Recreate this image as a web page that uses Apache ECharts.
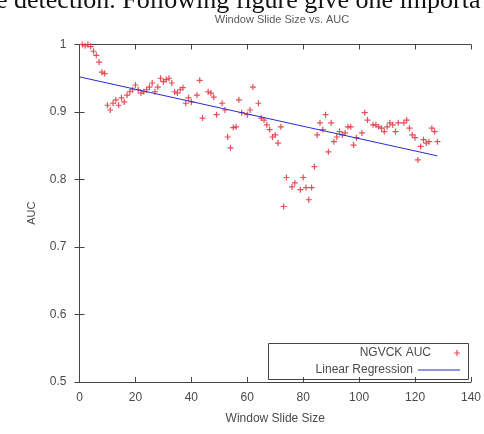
<!DOCTYPE html>
<html>
<head>
<meta charset="utf-8">
<script src="https://cdn.jsdelivr.net/npm/echarts@6/dist/echarts.min.js"></script>
<style>
  html, body { margin: 0; padding: 0; background: #fff; }
  #chart { width: 484px; height: 434px; }
</style>
</head>
<body>
<div id="chart"></div>
<script>
// window slide size -> AUC
const ngvckAuc = [
  [1, 1.0], [2, 0.998], [3, 1.0], [4, 0.997], [5, 0.99], [6, 0.984], [7, 0.974],
  [8, 0.959], [9, 0.957], [10, 0.91], [11, 0.903], [12, 0.913], [13, 0.918],
  [14, 0.91], [15, 0.921], [16, 0.915], [17, 0.925], [18, 0.93], [19, 0.933],
  [20, 0.94], [21, 0.933], [22, 0.928], [23, 0.93], [24, 0.933], [25, 0.937],
  [26, 0.943], [27, 0.93], [28, 0.937], [29, 0.95], [30, 0.945], [31, 0.948],
  [32, 0.95], [33, 0.943], [34, 0.93], [35, 0.928], [36, 0.933], [37, 0.936],
  [38, 0.913], [39, 0.921], [40, 0.915], [42, 0.925], [43, 0.947], [44, 0.891],
  [46, 0.93], [47, 0.928], [48, 0.922], [49, 0.896], [51, 0.913], [52, 0.903],
  [53, 0.863], [54, 0.847], [55, 0.877], [56, 0.878], [57, 0.918], [58, 0.899],
  [60, 0.896], [61, 0.903], [62, 0.937], [64, 0.913], [65, 0.891], [66, 0.888],
  [67, 0.881], [68, 0.874], [69, 0.863], [70, 0.866], [71, 0.854], [72, 0.878],
  [73, 0.76], [74, 0.803], [76, 0.789], [77, 0.795], [79, 0.785], [80, 0.803],
  [81, 0.788], [82, 0.77], [83, 0.788], [84, 0.819], [85, 0.866], [86, 0.884],
  [87, 0.874], [88, 0.896], [89, 0.841], [90, 0.884], [91, 0.856], [92, 0.863],
  [93, 0.871], [94, 0.866], [95, 0.869], [96, 0.878], [97, 0.878], [98, 0.851],
  [99, 0.862], [101, 0.869], [102, 0.899], [103, 0.888], [105, 0.881], [106, 0.881],
  [107, 0.878], [108, 0.876], [109, 0.871], [110, 0.878], [111, 0.884], [112, 0.881],
  [113, 0.871], [114, 0.884], [116, 0.884], [117, 0.888], [118, 0.876], [119, 0.866],
  [120, 0.862], [121, 0.829], [122, 0.849], [123, 0.859], [124, 0.854], [125, 0.856],
  [126, 0.876], [127, 0.871], [128, 0.856]
]

// fitted line, start and end
const regression = [[0, 0.952], [128, 0.835]]

const xTicks = { min: 0, max: 140, interval: 20 }
const yTicks = { min: 0.5, max: 1, interval: 0.1 }

const axisColor = '#444'
const textColor = '#4a4a4a'
const lineBlue = '#2b2bcf'
const plusPath = 'path://M4,0H6V4H10V6H6V10H4V6H0V4H4Z'

const chart = echarts.init(document.getElementById('chart'))

const tickOnly = {
  axisLine: { show: true, lineStyle: { color: axisColor, width: 1 } },
  axisTick: { show: true, inside: true, length: 5, lineStyle: { color: axisColor } },
  axisLabel: { show: false },
  splitLine: { show: false }
}

const option = {
  backgroundColor: '#fff',
  animation: false,

  title: {
    text: 'Window Slide Size vs. AUC',
    left: 277,
    textAlign: 'center',
    top: 9,
    textStyle: {
      color: '#5a5a5a',
      fontSize: 11,
      fontWeight: 'normal',
      fontFamily: 'Liberation Sans'
    }
  },

  grid: {
    left: 79.5,
    right: 9,
    top: 44.5,
    bottom: 52,
    containLabel: false
  },

  xAxis: [
    {
      type: 'value',
      min: xTicks.min,
      max: xTicks.max,
      interval: xTicks.interval,
      name: 'Window Slide Size',
      nameLocation: 'middle',
      nameGap: 31,
      nameTextStyle: { color: textColor, fontSize: 12, fontFamily: 'Liberation Sans' },
      axisLine: { show: true, onZero: false, lineStyle: { color: axisColor, width: 1 } },
      axisTick: { show: true, inside: true, length: 5, lineStyle: { color: axisColor } },
      axisLabel: { color: textColor, fontSize: 12, margin: 10, fontFamily: 'Liberation Sans' },
      splitLine: { show: false }
    },
    {
      type: 'value',
      position: 'top',
      min: xTicks.min,
      max: xTicks.max,
      interval: xTicks.interval,
      ...tickOnly
    }
  ],

  yAxis: [
    {
      type: 'value',
      min: yTicks.min,
      max: yTicks.max,
      interval: yTicks.interval,
      name: 'AUC',
      nameLocation: 'middle',
      nameGap: 42,
      nameTextStyle: { color: textColor, fontSize: 11, fontFamily: 'Liberation Sans' },
      axisLine: { show: true, onZero: false, lineStyle: { color: axisColor, width: 1 } },
      axisTick: { show: true, inside: true, length: 5, lineStyle: { color: axisColor } },
      axisLabel: {
        color: textColor,
        fontSize: 12,
        margin: 13,
        fontFamily: 'Liberation Sans',
        formatter: (v) => (v === 1 ? '1' : v.toFixed(1))
      },
      splitLine: { show: false }
    },
    {
      type: 'value',
      position: 'right',
      min: yTicks.min,
      max: yTicks.max,
      interval: yTicks.interval,
      ...tickOnly
    }
  ],

  legend: [
    {
      data: [{ name: 'NGVCK AUC', icon: plusPath }],
      orient: 'vertical',
      align: 'right',
      right: 24,
      top: 347,
      padding: 0,
      itemWidth: 42,
      itemHeight: 6,
      textStyle: { color: textColor, fontSize: 12, fontFamily: 'Liberation Sans' }
    },
    {
      data: [{ name: 'Linear Regression', icon: 'rect', itemStyle: { color: lineBlue } }],
      orient: 'vertical',
      align: 'right',
      right: 24,
      top: 364,
      padding: 0,
      itemWidth: 42,
      itemHeight: 1.2,
      textStyle: { color: textColor, fontSize: 12, fontFamily: 'Liberation Sans' }
    }
  ],

  graphic: [
    {
      type: 'text',
      left: -4,
      top: -12,
      style: {
        text: 'e detection. Following figure give one importa',
        font: '26px "Liberation Serif"',
        fill: '#111'
      }
    },
    {
      type: 'rect',
      shape: { x: 268.5, y: 343.5, width: 200, height: 36 },
      style: { fill: 'none', stroke: axisColor, lineWidth: 1 },
      z: 10
    }
  ],

  series: [
    {
      name: 'NGVCK AUC',
      type: 'scatter',
      data: ngvckAuc,
      symbol: plusPath,
      symbolSize: 6,
      itemStyle: { color: '#e0303c', opacity: 0.85 },
      z: 2
    },
    {
      name: 'Linear Regression',
      type: 'line',
      data: regression,
      symbol: 'none',
      itemStyle: { color: lineBlue },
      lineStyle: { color: lineBlue, width: 1 },
      z: 3
    }
  ]
}

chart.setOption(option)
</script>
</body>
</html>
